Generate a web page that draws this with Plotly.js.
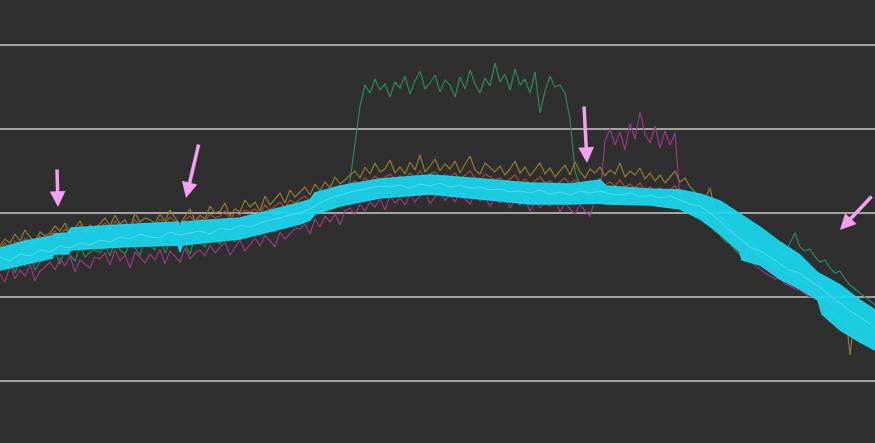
<!DOCTYPE html>
<html>
<head>
<meta charset="utf-8">
<script src="https://cdn.plot.ly/plotly-3.0.1.min.js"></script>
<style>html,body{margin:0;padding:0;background:#2f2f2f;}#chart{width:875px;height:443px;}</style>
</head>
<body>
<div id="chart"></div>
<script>
// Sample spacing for the noisy traces (one sample every 5 time units)
const sampleStep = 5;

const greenVals = [
118,112,124,108,121,115,127,111,119,125,
122,130,117,133,126,120,135,124,129,131,
128,136,125,140,131,127,138,133,126,142,
135,131,143,128,139,146,133,137,127,145,
140,134,148,143,137,151,145,139,154,147,
150,156,145,160,153,149,164,157,162,168,
165,171,163,176,181,174,185,179,188,192,
200,235,275,296,288,302,291,297,284,299,
293,305,287,300,310,292,298,306,289,301,
296,284,304,292,311,297,288,303,295,318,
299,307,291,312,296,302,288,309,268,290,
305,294,296,288,262,210,195,188,185,192,
186,190,183,194,188,181,192,185,189,180,
186,179,184,176,182,174,178,169,172,164,
168,160,157,150,146,140,137,131,126,122,
140,136,130,127,123,120,124,128,138,148,
134,130,132,124,119,121,113,108,110,102,
96,92,88,84,80,76];

const magentaVals = [
107,99,115,102,111,105,117,100,110,114,
119,111,123,115,125,109,121,117,113,124,
122,128,116,131,120,126,113,129,124,118,
127,121,132,117,130,125,119,133,122,128,
131,125,136,128,134,139,126,133,141,130,
137,143,135,146,140,134,149,142,147,153,
152,157,147,162,154,165,159,167,156,170,
173,166,177,170,179,174,182,171,185,178,
183,176,187,179,185,190,177,184,188,181,
186,179,189,182,177,187,180,184,175,183,
178,185,173,181,176,182,170,179,174,177,
175,181,169,178,172,167,177,170,165,182,
184,240,252,236,249,231,258,242,269,247,
238,255,233,250,236,248,182,178,176,172,
166,160,156,160,150,144,138,142,130,124,
120,116,112,108,105,102,103,97,95,92,
91,87,84,85,78,74,70,65,60,56,
52,48,44,40,36,33];

const oliveVals = [
135,142,138,147,140,151,144,139,149,145,
148,155,150,158,146,153,160,149,156,152,
158,163,155,166,157,161,152,168,159,163,
161,158,167,160,171,163,157,165,172,160,
166,162,175,168,170,178,165,172,169,181,
174,179,170,185,176,182,188,178,191,184,
189,194,186,197,190,199,193,204,197,201,
206,210,203,214,207,218,209,212,221,208,
214,207,219,211,226,209,215,222,210,217,
212,220,208,216,225,211,207,218,213,209,
215,206,212,220,208,214,205,211,218,207,
213,204,210,216,206,219,209,203,212,208,
214,205,211,207,218,204,210,206,213,202,
208,200,206,198,204,210,199,203,194,189,
178,182,193,170,165,160,153,148,143,137,
133,130,126,122,120,117,114,112,110,108,
107,104,100,97,93,90,86,82,78,74,
26,68,64,60,57,53];

const redVals = [
133,138,130,140,136,143,139,134,145,141,
146,150,144,152,147,149,155,146,151,148,
154,158,151,160,155,157,150,161,156,158,
157,155,162,158,164,160,156,161,165,159,
162,160,167,163,165,170,162,168,166,171,
169,172,167,176,171,175,179,173,181,178,
182,185,180,188,184,190,187,193,190,194,
197,200,196,203,199,205,201,204,207,202,
205,202,208,204,210,203,207,209,204,206,
204,208,202,206,210,203,200,207,204,201,
203,199,202,206,198,202,197,200,204,198,
200,196,199,203,197,201,198,195,200,197,
202,196,199,195,201,194,197,193,198,191,
194,190,193,188,191,195,187,190,186,182,
180,175,172,168,163,158,152,147,142,137,
132,128,124,120,117,114,111,108,105,103,
101,98,95,92,89,86,82,78,74,70,
66,62,58,55,52,49];

// Cyan envelope band: time, upper and lower edge
const bandX =     [0,25,52,54,68,71,120,178,180,182,240,300,310,315,340,380,430,470,530,570,600,606,650,680,700,720,740,742,760,780,800,818,822,840,860,875];
const bandUpper = [133,140,145,147,148,153,156,159,152,159,163,178,181,188,195,202,206,203,198,197,201,195,192,191,187,180,167,166,154,139,126,108,106,96,81,71];
const bandLower = [111,117,123,127,127,131,134,136,129,136,142,157,161,167,175,183,187,183,177,177,178,177,176,172,162,147,129,121,116,102,92,81,67,51,39,31];

// Inner lighter trace inside the band (one sample every 10 time units)
const innerStep = 10;
const innerVals = [
124,120,127,125,131,129,135,133,138,136,
141,139,144,142,147,144,143,149,146,148,
150,147,153,151,156,154,158,161,163,166,
168,172,178,183,186,189,191,193,195,194,
196,193,197,195,198,194,196,193,194,191,
192,189,190,188,191,187,189,186,190,188,
190,187,186,188,184,186,183,185,181,177,
175,168,160,150,142,134,130,124,117,111,
108,100,94,85,78,70,64,57];

const gridVals = [0,84,168,252,336];

// Hand-drawn style arrow markers: tip position and tail offset (pixels)
const arrowX  = [58, 186, 587, 840];
const arrowY  = [174, 183, 218, 151];
const arrowAX = [-1, 13, -3, 33];
const arrowAY = [-39, -55, -58, -35];

const tx = (arr, step) => arr.map((_, i) => i * step);

const noisy = (vals, color) => ({
  x: tx(vals, sampleStep), y: vals, type: 'scatter', mode: 'lines',
  line: {color: color, width: 1.2}, hoverinfo: 'skip', showlegend: false
});

const bandColor = 'rgba(26,212,236,0.94)';

const traces = [
  noisy(greenVals, '#2b8a5c'),
  noisy(magentaVals, '#9a3a80'),
  noisy(oliveVals, '#927c33'),
  noisy(redVals, '#b04a2c'),
  {x: bandX, y: bandLower, type: 'scatter', mode: 'lines',
   line: {color: bandColor, width: 1.5}, hoverinfo: 'skip', showlegend: false},
  {x: bandX, y: bandUpper, type: 'scatter', mode: 'lines', fill: 'tonexty',
   fillcolor: bandColor,
   line: {color: bandColor, width: 1.5}, hoverinfo: 'skip', showlegend: false},
  {x: tx(innerVals, innerStep), y: innerVals, type: 'scatter', mode: 'lines',
   line: {color: 'rgba(140,235,252,0.5)', width: 1}, hoverinfo: 'skip', showlegend: false}
];

const annotations = arrowX.map((x, i) => ({
  x: x, y: arrowY[i], xref: 'x', yref: 'y', text: '', showarrow: true,
  ax: arrowAX[i], ay: arrowAY[i], arrowcolor: '#f5a0ee', arrowwidth: 3.5,
  arrowhead: 2, arrowsize: 0.9
}));

const layout = {
  width: 875, height: 443,
  margin: {l: 0, r: 0, t: 0, b: 0, pad: 0},
  paper_bgcolor: '#2f2f2f', plot_bgcolor: '#2f2f2f',
  xaxis: {range: [0, 875], showgrid: false, zeroline: false, showticklabels: false, showline: false, ticks: ''},
  yaxis: {range: [-62, 381], tickmode: 'array', tickvals: gridVals, showticklabels: false,
          gridcolor: '#a3a3a3', gridwidth: 1.5, zeroline: false, showline: false, ticks: ''},
  annotations: annotations,
  showlegend: false
};

Plotly.newPlot('chart', traces, layout, {staticPlot: true, displayModeBar: false});
</script>
</body>
</html>
